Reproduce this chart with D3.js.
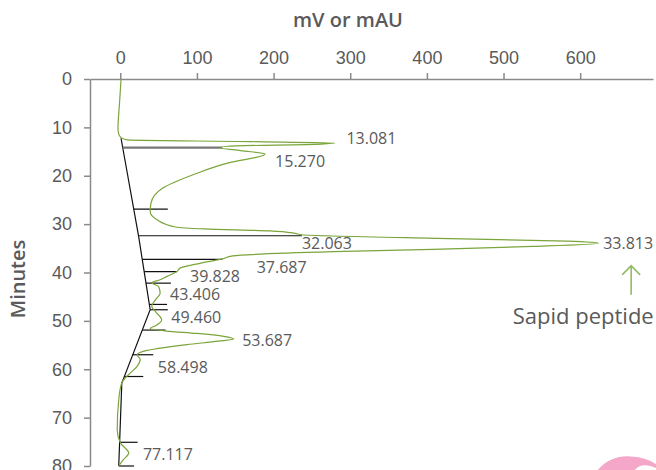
<!DOCTYPE html>
<html>
<head>
<meta charset="utf-8">
<script src="https://cdn.jsdelivr.net/npm/d3@7"></script>
<style>
    body { margin: 0; background: #fff; }
    svg { display: block; font-family: "Open Sans", "Noto Sans", sans-serif; }
    .axis path, .axis line { stroke: #8a8a8a; stroke-width: 1.5; }
    .axis text { fill: #5a5a5a; font-size: 18px; }
</style>
</head>
<body>
<div id="chart"></div>
<script>
// chromatogram trace: retention time (minutes) and signal (mV or mAU)
const traceMin = [0, 5, 10.3, 11.4, 12.1, 12.6, 12.95, 13.25, 13.45, 13.9, 14.2, 14.8, 15.5, 15.8, 17.2,
    19.8, 22.6, 25.7, 27.4, 29.1, 30.6, 31.0, 31.4, 31.9, 32.2, 33.0, 33.5, 33.95, 34.6, 35.2, 35.7,
    36.55, 37.2, 38.1, 39.1, 39.8, 40.8, 41.5, 42.1, 42.9, 44.3, 45.6, 47.0, 48.1, 49.8, 51.0, 51.6,
    52.1, 52.6, 53.2, 53.75, 54.2, 54.9, 56.3, 57.0, 58.0, 59.4, 60.8, 61.8, 62.8, 66.3, 72.5, 75.2,
    77.3, 78.7, 80];
const traceVal = [1, -1, -3, -2, 1, 9, 170, 280, 262, 140, 130, 157, 189, 186, 145,
    95, 55, 40, 39, 48, 72, 110, 195, 228, 237, 430, 583, 624, 539, 408, 278,
    147, 133, 104, 78, 74, 61, 52, 41, 50, 52, 46, 41, 46, 54, 46, 39,
    60, 100, 135, 148, 128, 87, 30, 22, 26, 22, 13, 6.5, 2, -2, -4, 0,
    11, 4, -2];

// integration baseline
const baseMin = [12.25, 32.6, 47.7, 62.85, 80];
const baseVal = [1, 24, 39, 2, -2];

// peak drop lines: time and signal where they stop
const dropMin = [14.2, 26.9, 32.4, 37.3, 39.8, 42.2, 46.6, 47.7, 51.9, 57.0, 61.5, 75.1, 80.0];
const dropVal = [133, 62, 237, 133, 74, 66, 61, 62, 59, 43, 30, 22.6, 18];

// peak labels, anchored in data units
const peakLabels = ["13.081", "15.270", "32.063", "33.813", "37.687", "39.828", "43.406",
    "49.460", "53.687", "58.498", "77.117"];
const labelVal = [295, 202, 237, 630, 178, 91, 65, 66.5, 159, 49, 29.6];
const labelMin = [12.2, 17.1, 33.9, 33.9, 38.9, 40.8, 44.5, 49.3, 54.0, 59.6, 77.6];

const xTicks = [0, 100, 200, 300, 400, 500, 600];
const yTicks = [0, 10, 20, 30, 40, 50, 60, 70, 80];

const width = 656, height = 470;
const margin = { top: 79, left: 90, right: 3, bottom: 4 };

const svg = d3.select("#chart").append("svg")
    .attr("width", width)
    .attr("height", height);

const x = d3.scaleLinear()
    .domain([-39.5, 695])
    .range([margin.left, width - margin.right]);

const y = d3.scaleLinear()
    .domain([0, 80])
    .range([margin.top, height - margin.bottom]);

// axes
svg.append("g")
    .attr("class", "axis")
    .attr("transform", `translate(0, ${margin.top})`)
    .call(d3.axisTop(x).tickValues(xTicks).tickSize(6).tickPadding(9).tickSizeOuter(0));

svg.append("g")
    .attr("class", "axis")
    .attr("transform", `translate(${margin.left}, 0)`)
    .call(d3.axisLeft(y).tickValues(yTicks).tickSize(6).tickPadding(12).tickSizeOuter(0));

// axis titles
svg.append("text")
    .attr("x", 348)
    .attr("y", 27)
    .attr("text-anchor", "middle")
    .attr("font-size", 20)
    .attr("font-weight", 600)
    .attr("fill", "#5a5a5a")
    .text("mV or mAU");

svg.append("text")
    .attr("transform", `translate(25, 279) rotate(-90)`)
    .attr("text-anchor", "middle")
    .attr("font-size", 20)
    .attr("font-weight", 600)
    .attr("fill", "#5a5a5a")
    .text("Minutes");

// baseline + drop lines
const baseLine = d3.line()
    .x(i => x(baseVal[i]))
    .y(i => y(baseMin[i]));

svg.append("path")
    .attr("d", baseLine(d3.range(baseMin.length)))
    .attr("fill", "none")
    .attr("stroke", "#111")
    .attr("stroke-width", 1.2);

const baseAt = t => {
    const i = Math.max(1, d3.bisectLeft(baseMin, t));
    const k = (t - baseMin[i - 1]) / (baseMin[i] - baseMin[i - 1]);
    return baseVal[i - 1] + k * (baseVal[i] - baseVal[i - 1]);
};

svg.append("g")
    .selectAll("line")
    .data(d3.range(dropMin.length))
    .join("line")
    .attr("x1", i => x(baseAt(dropMin[i])))
    .attr("x2", i => x(dropVal[i]))
    .attr("y1", i => y(dropMin[i]))
    .attr("y2", i => y(dropMin[i]))
    .attr("stroke", i => i === 0 ? "#777" : "#111")
    .attr("stroke-width", i => i === 0 ? 2.2 : 1.2);

// trace
const traceLine = d3.line()
    .x(i => x(traceVal[i]))
    .y(i => y(traceMin[i]))
    .curve(d3.curveMonotoneY);

svg.append("path")
    .attr("d", traceLine(d3.range(traceMin.length)))
    .attr("fill", "none")
    .attr("stroke", "#7aa53a")
    .attr("stroke-width", 1.2);

// peak labels
svg.append("g")
    .selectAll("text")
    .data(peakLabels)
    .join("text")
    .attr("x", (d, i) => x(labelVal[i]))
    .attr("y", (d, i) => y(labelMin[i]))
    .attr("dy", "0.35em")
    .attr("font-size", 16)
    .attr("fill", "#5a5a5a")
    .text(d => d);

// sapid peptide annotation
const arrowX = x(666.5);
svg.append("path")
    .attr("d", `M${arrowX},${y(44.6)}V${y(38.6)}M${arrowX - 9},${y(40.5)}L${arrowX},${y(38.6)}L${arrowX + 9},${y(40.5)}`)
    .attr("fill", "none")
    .attr("stroke", "#93bb66")
    .attr("stroke-width", 1.6);

svg.append("text")
    .attr("x", x(604))
    .attr("y", y(49.1))
    .attr("dy", "0.35em")
    .attr("text-anchor", "middle")
    .attr("font-size", 22)
    .attr("fill", "#5a5a5a")
    .text("Sapid peptide");

// pink logo fragment in the corner
svg.append("path")
    .attr("d", "M597,471 Q610,455 631,456.5 Q648,457.5 657,465 L657,468.5 Q648,463.5 640,466 Q636,468 634,471 Z")
    .attr("fill", "#f4a7c9");
</script>
</body>
</html>
